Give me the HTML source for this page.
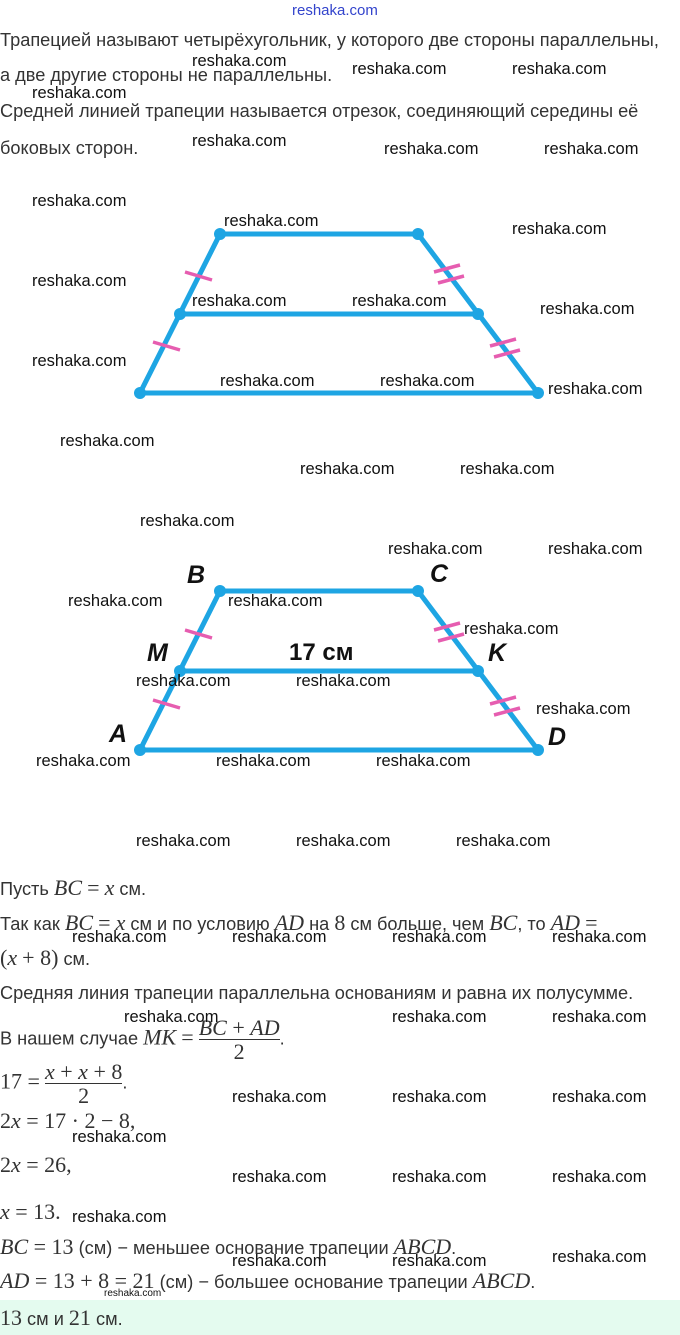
<!DOCTYPE html>
<html><head><meta charset="utf-8"><style>
body{margin:0;width:680px;height:1335px;position:relative;background:#fff;font-family:"Liberation Sans",sans-serif;color:#222;overflow:hidden}
.t{position:absolute;left:0;font-size:18.2px;white-space:nowrap;color:#333}
.w{position:absolute;font-size:16.5px;color:#111;white-space:nowrap}
.m{font-family:"Liberation Serif",serif;font-style:italic;font-size:22px}
.n{font-family:"Liberation Serif",serif;font-size:22px}
.fr{display:inline-block;vertical-align:middle;text-align:center;font-family:"Liberation Serif",serif;font-size:22px}
.fr span{display:block;line-height:23px}
.fr .top{border-bottom:1px solid #333}
</style></head><body>
<div class="w" style="left:292px;top:2px;color:#3344cc;font-size:15px">reshaka.com</div>
<div class="t" style="top:30px">Трапецией называют четырёхугольник, у которого две стороны параллельны,</div>
<div class="t" style="top:65px">а две другие стороны не параллельны.</div>
<div class="t" style="top:101px">Средней линией трапеции называется отрезок, соединяющий середины её</div>
<div class="t" style="top:138px">боковых сторон.</div>

<svg style="position:absolute;left:0;top:0" width="680" height="800">
<g stroke="#1ea5e3" stroke-width="5" fill="none" stroke-linejoin="round">
<polygon points="220,234 418,234 538,393 140,393"/><line x1="180" y1="314" x2="478" y2="314"/>
<polygon points="220,591 418,591 538,750 140,750"/><line x1="180" y1="671" x2="478" y2="671"/>
</g>
<g fill="#1ea5e3">
<circle cx="220" cy="234" r="6"/><circle cx="418" cy="234" r="6"/><circle cx="180" cy="314" r="6"/><circle cx="478" cy="314" r="6"/><circle cx="140" cy="393" r="6"/><circle cx="538" cy="393" r="6"/>
<circle cx="220" cy="591" r="6"/><circle cx="418" cy="591" r="6"/><circle cx="180" cy="671" r="6"/><circle cx="478" cy="671" r="6"/><circle cx="140" cy="750" r="6"/><circle cx="538" cy="750" r="6"/>
</g>
<g stroke="#e65db0" stroke-width="3.5">
<line x1="185" y1="272" x2="212" y2="280"/><line x1="153" y1="342" x2="180" y2="350"/>
<line x1="434" y1="272" x2="460" y2="265"/><line x1="438" y1="283" x2="464" y2="276"/>
<line x1="490" y1="346" x2="516" y2="339"/><line x1="494" y1="357" x2="520" y2="350"/>
<line x1="185" y1="630" x2="212" y2="638"/><line x1="153" y1="700" x2="180" y2="708"/>
<line x1="434" y1="630" x2="460" y2="623"/><line x1="438" y1="641" x2="464" y2="634"/>
<line x1="490" y1="704" x2="516" y2="697"/><line x1="494" y1="715" x2="520" y2="708"/>
</g>
<g font-family="Liberation Sans,sans-serif" font-style="italic" font-weight="bold" font-size="25" fill="#111">
<text x="187" y="583">B</text><text x="430" y="582">C</text><text x="147" y="661">M</text><text x="488" y="661">K</text><text x="109" y="742">A</text><text x="548" y="745">D</text>
</g>
<text x="289" y="660" font-family="Liberation Sans,sans-serif" font-weight="bold" font-size="24" fill="#111">17 см</text>
</svg>

<div class="t" style="top:875px">Пусть <span class="m">BC</span> <span class="n">=</span> <span class="m">x</span> см.</div>
<div class="t" style="top:910px">Так как <span class="m">BC</span> <span class="n">=</span> <span class="m">x</span> см и по условию <span class="m">AD</span> на <span class="n">8</span> см больше, чем <span class="m">BC</span>, то <span class="m">AD</span> <span class="n">=</span></div>
<div class="t" style="top:945px"><span class="n">(</span><span class="m">x</span> <span class="n">+ 8)</span> см.</div>
<div class="t" style="top:983px">Средняя линия трапеции параллельна основаниям и равна их полусумме.</div>
<div class="t" style="top:1016px">В нашем случае <span class="m">MK</span> <span class="n">=</span> <span class="fr"><span class="top"><i>BC</i> + <i>AD</i></span><span>2</span></span>.</div>
<div class="t" style="top:1060px"><span class="n">17 =</span> <span class="fr"><span class="top"><i>x</i> + <i>x</i> + 8</span><span>2</span></span>.</div>
<div class="t" style="top:1108px"><span class="n">2<i>x</i> = 17 · 2 − 8,</span></div>
<div class="t" style="top:1152px"><span class="n">2<i>x</i> = 26,</span></div>
<div class="t" style="top:1199px"><span class="n"><i>x</i> = 13.</span></div>
<div class="t" style="top:1234px"><span class="n"><i>BC</i> = 13</span> (см) − меньшее основание трапеции <span class="m">ABCD</span>.</div>
<div class="t" style="top:1268px"><span class="n"><i>AD</i> = 13 + 8 = 21</span> (см) − большее основание трапеции <span class="m">ABCD</span>.</div>
<div style="position:absolute;left:0;top:1300px;width:680px;height:35px;background:#e4fbef"></div>
<div class="t" style="top:1305px"><span class="n">13</span> см и <span class="n">21</span> см.</div>

<div class="w" style="left:192px;top:52px">reshaka.com</div><div class="w" style="left:352px;top:60px">reshaka.com</div><div class="w" style="left:512px;top:60px">reshaka.com</div>
<div class="w" style="left:32px;top:84px">reshaka.com</div><div class="w" style="left:192px;top:132px">reshaka.com</div><div class="w" style="left:384px;top:140px">reshaka.com</div><div class="w" style="left:544px;top:140px">reshaka.com</div>
<div class="w" style="left:32px;top:192px">reshaka.com</div><div class="w" style="left:224px;top:212px">reshaka.com</div><div class="w" style="left:512px;top:220px">reshaka.com</div>
<div class="w" style="left:32px;top:272px">reshaka.com</div><div class="w" style="left:192px;top:292px">reshaka.com</div><div class="w" style="left:352px;top:292px">reshaka.com</div><div class="w" style="left:540px;top:300px">reshaka.com</div>
<div class="w" style="left:32px;top:352px">reshaka.com</div><div class="w" style="left:220px;top:372px">reshaka.com</div><div class="w" style="left:380px;top:372px">reshaka.com</div><div class="w" style="left:548px;top:380px">reshaka.com</div>
<div class="w" style="left:60px;top:432px">reshaka.com</div><div class="w" style="left:300px;top:460px">reshaka.com</div><div class="w" style="left:460px;top:460px">reshaka.com</div>
<div class="w" style="left:140px;top:512px">reshaka.com</div><div class="w" style="left:388px;top:540px">reshaka.com</div><div class="w" style="left:548px;top:540px">reshaka.com</div>
<div class="w" style="left:68px;top:592px">reshaka.com</div><div class="w" style="left:228px;top:592px">reshaka.com</div><div class="w" style="left:464px;top:620px">reshaka.com</div>
<div class="w" style="left:136px;top:672px">reshaka.com</div><div class="w" style="left:296px;top:672px">reshaka.com</div><div class="w" style="left:536px;top:700px">reshaka.com</div>
<div class="w" style="left:36px;top:752px">reshaka.com</div><div class="w" style="left:216px;top:752px">reshaka.com</div><div class="w" style="left:376px;top:752px">reshaka.com</div>
<div class="w" style="left:136px;top:832px">reshaka.com</div><div class="w" style="left:296px;top:832px">reshaka.com</div><div class="w" style="left:456px;top:832px">reshaka.com</div>
<div class="w" style="left:72px;top:928px">reshaka.com</div><div class="w" style="left:232px;top:928px">reshaka.com</div><div class="w" style="left:392px;top:928px">reshaka.com</div><div class="w" style="left:552px;top:928px">reshaka.com</div>
<div class="w" style="left:124px;top:1008px">reshaka.com</div><div class="w" style="left:392px;top:1008px">reshaka.com</div><div class="w" style="left:552px;top:1008px">reshaka.com</div>
<div class="w" style="left:232px;top:1088px">reshaka.com</div><div class="w" style="left:392px;top:1088px">reshaka.com</div><div class="w" style="left:552px;top:1088px">reshaka.com</div>
<div class="w" style="left:72px;top:1128px">reshaka.com</div>
<div class="w" style="left:232px;top:1168px">reshaka.com</div><div class="w" style="left:392px;top:1168px">reshaka.com</div><div class="w" style="left:552px;top:1168px">reshaka.com</div>
<div class="w" style="left:72px;top:1208px">reshaka.com</div>
<div class="w" style="left:232px;top:1252px">reshaka.com</div><div class="w" style="left:392px;top:1252px">reshaka.com</div><div class="w" style="left:552px;top:1248px">reshaka.com</div>
<div class="w" style="left:104px;top:1288px;font-size:10px">reshaka.com</div>
</body></html>
